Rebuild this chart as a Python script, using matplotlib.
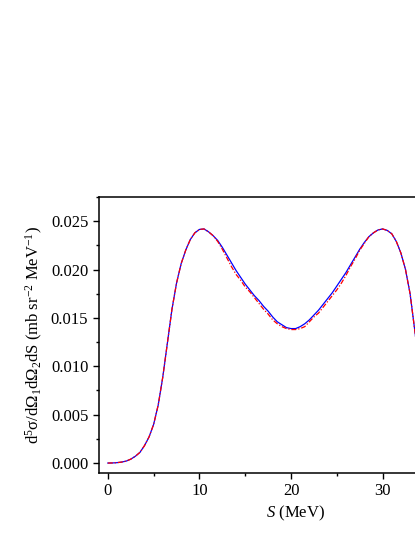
import numpy as np
import matplotlib
matplotlib.use('Agg')
import matplotlib.pyplot as plt
from matplotlib.ticker import MultipleLocator, FixedLocator

plt.rcParams['font.family'] = ['Liberation Serif', 'DejaVu Serif']
plt.rcParams['mathtext.fontset'] = 'custom'
plt.rcParams['mathtext.rm'] = 'Liberation Serif'
plt.rcParams['mathtext.it'] = 'Liberation Serif:italic'

# S (MeV) and cross section
s = [0, 0.5, 1, 1.5, 2, 2.5, 3, 3.5, 4, 4.5, 5, 5.5, 6, 6.5, 7, 7.5, 8, 8.5,
     9, 9.5, 10, 10.5, 11, 11.5, 12, 12.5, 13, 13.5, 14, 14.5, 15, 15.5,
     16, 16.5, 17, 17.5, 18, 18.5, 19, 19.5, 20, 20.5, 21, 21.5, 22, 22.5,
     23, 23.5, 24, 24.5, 25, 25.5, 26, 26.5, 27, 27.5, 28, 28.5, 29, 29.5,
     30, 30.5, 31, 31.5, 32, 32.5, 33, 33.5, 34]
blue = [0.0, 0.00001, 0.00004, 0.0001, 0.0002, 0.0004, 0.0007, 0.0011,
        0.0018, 0.0027, 0.0040, 0.0060, 0.0089, 0.0124, 0.0159, 0.0186,
        0.0206, 0.0220, 0.0231, 0.0238, 0.02415, 0.0242, 0.0239, 0.0235,
        0.0230, 0.0223, 0.0215, 0.0207, 0.0199, 0.0192, 0.0185, 0.0179,
        0.0173, 0.0168, 0.0162, 0.0157, 0.0151, 0.0146, 0.0143, 0.0140,
        0.0139, 0.0139, 0.0141, 0.0144, 0.0148, 0.0153, 0.0158, 0.0164,
        0.0170, 0.0176, 0.0183, 0.0190, 0.0197, 0.0205, 0.0213, 0.0221,
        0.0228, 0.0234, 0.0238, 0.0241, 0.0242, 0.02405, 0.0237, 0.0229,
        0.0217, 0.0200, 0.0175, 0.0138, 0.0100]
red = [0.0, 0.00001, 0.00004, 0.0001, 0.0002, 0.0004, 0.0007, 0.0011,
       0.0018, 0.0027, 0.0040, 0.0060, 0.0089, 0.0124, 0.0159, 0.0186,
       0.0206, 0.0220, 0.0231, 0.0238, 0.02415, 0.0242, 0.0239, 0.0235,
       0.0229, 0.0221, 0.0212, 0.0203, 0.0195, 0.0189, 0.0182, 0.0177,
       0.0171, 0.0165, 0.0159, 0.0154, 0.0148, 0.0144, 0.0141, 0.0139,
       0.0138, 0.0138, 0.0139, 0.0141, 0.0146, 0.0151, 0.0155, 0.0161,
       0.0167, 0.0173, 0.0179, 0.0186, 0.0194, 0.0203, 0.0211, 0.0220,
       0.0227, 0.0234, 0.0238, 0.0241, 0.0242, 0.02405, 0.0237, 0.0229,
       0.0217, 0.0200, 0.0175, 0.0138, 0.0100]

fig = plt.figure(figsize=(4.15, 5.37), dpi=100)
ax = fig.add_axes([0.2378, 0.1197, 0.949, 0.5134])

ax.plot(s, blue, color='#0000ff', lw=0.9)
ax.plot(s, red, color='#ff0000', lw=0.9, linestyle=(0, (4, 1.5, 1, 1.5)))

ax.set_xlim(-1, 42)
ax.set_ylim(-0.001, 0.0275)
ax.xaxis.set_major_locator(FixedLocator([0, 10, 20, 30]))
ax.xaxis.set_minor_locator(FixedLocator([5, 15, 25]))
ax.yaxis.set_major_locator(MultipleLocator(0.005))
ax.yaxis.set_minor_locator(MultipleLocator(0.0025))
ax.yaxis.set_major_formatter(plt.FormatStrFormatter('%.3f'))
ax.tick_params(which='major', direction='out', length=4.5, width=1, labelsize=12, pad=3)
ax.tick_params(which='minor', direction='out', length=2.5, width=1)
ax.tick_params(top=False, right=False)
for sp in ax.spines.values():
    sp.set_linewidth(1.1)

ax.set_xlabel(r'$S$ (MeV)', fontsize=12, labelpad=3)
ax.set_ylabel(r'd$^5\mathrm{\sigma}$/d$\Omega_1$d$\Omega_2$dS (mb sr$^{-2}$ MeV$^{-1}$)',
              fontsize=12, labelpad=4)

fig.savefig('out.png', dpi=100)
